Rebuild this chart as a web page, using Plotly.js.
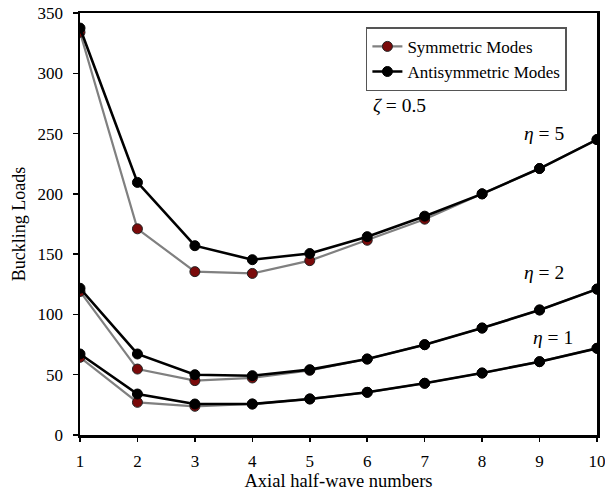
<!DOCTYPE html>
<html>
<head>
<meta charset="utf-8">
<script src="https://cdn.plot.ly/plotly-3.0.1.min.js"></script>
<style>html,body{margin:0;padding:0;background:#fff;}#chart{width:605px;height:492px;}</style>
</head>
<body>
<div id="chart"></div>
<script>
const halfWaves = [1, 2, 3, 4, 5, 6, 7, 8, 9, 10];

const symEta5  = [334, 171, 135.5, 134, 144.6, 161.5, 179, 200, 221, 245];
const antiEta5 = [337.5, 209.5, 157, 145.4, 150.5, 164.5, 181.5, 200, 221, 245];
const symEta2  = [119, 54.7, 45.1, 47.3, 53.6, 63, 74.9, 88.7, 103.7, 121];
const antiEta2 = [121.7, 67.2, 50, 49.2, 54.2, 63, 74.9, 88.7, 103.7, 121];
const symEta1  = [64.4, 27.1, 23.8, 25.7, 29.9, 35.4, 42.9, 51.4, 60.8, 71.9];
const antiEta1 = [67.2, 34, 25.7, 25.7, 29.9, 35.4, 42.9, 51.4, 60.8, 71.9];

const symName = 'Symmetric Modes';
const antiName = 'Antisymmetric Modes';

const symStyle = {
  line: {color: '#808080', width: 2.2},
  marker: {color: '#7a0a0a', size: 10, line: {color: '#222', width: 1}}
};
const antiStyle = {
  line: {color: '#000000', width: 2.6},
  marker: {color: '#000000', size: 10, line: {color: '#000', width: 1}}
};

function tr(y, name, style, show) {
  return Object.assign({
    x: halfWaves, y: y, name: name, mode: 'lines+markers', type: 'scatter',
    showlegend: show, legendgroup: name
  }, JSON.parse(JSON.stringify(style)));
}

const data = [
  tr(symEta5, symName, symStyle, true),
  tr(symEta2, symName, symStyle, false),
  tr(symEta1, symName, symStyle, false),
  tr(antiEta5, antiName, antiStyle, true),
  tr(antiEta2, antiName, antiStyle, false),
  tr(antiEta1, antiName, antiStyle, false)
];

const serif = 'Liberation Serif, Times New Roman, serif';

const layout = {
  width: 605, height: 492,
  margin: {l: 80, r: 8, t: 13, b: 57},
  paper_bgcolor: '#fff', plot_bgcolor: '#fff',
  font: {family: serif, color: '#000', size: 17},
  showlegend: true,
  legend: {
    x: 0.553, y: 0.966, xanchor: 'left', yanchor: 'top',
    bgcolor: '#fff', bordercolor: '#555', borderwidth: 1.5,
    font: {family: serif, size: 17, color: '#000'},
    tracegroupgap: 0
  },
  xaxis: {
    range: [1, 10], tickvals: halfWaves, ticktext: halfWaves.map(String),
    showgrid: false, zeroline: false, showline: true, mirror: true,
    linecolor: '#000', linewidth: 2.5, ticks: 'outside', ticklen: 4, tickwidth: 1.5, tickcolor: '#000',
    ticklabelstandoff: 5, ticklabeloverflow: 'allow',
    tickfont: {family: serif, size: 17},
    title: {text: 'Axial half-wave numbers', font: {family: serif, size: 18.5}, standoff: 2}
  },
  yaxis: {
    range: [0, 350], dtick: 50, tick0: 0,
    showgrid: false, zeroline: false, showline: true, mirror: true,
    linecolor: '#000', linewidth: 2.5, ticks: 'outside', ticklen: 5, tickwidth: 1.5, tickcolor: '#000',
    ticklabelstandoff: 6, ticklabeloverflow: 'allow',
    tickfont: {family: serif, size: 17},
    title: {text: 'Buckling Loads', font: {family: serif, size: 18}, standoff: 8}
  },
  annotations: [
    {x: 6.57, y: 273, xref: 'x', yref: 'y', text: '<i>ζ</i> = 0.5', showarrow: false, font: {family: serif, size: 19.5}},
    {x: 9.08, y: 250, xref: 'x', yref: 'y', text: '<i>η</i> = 5', showarrow: false, font: {family: serif, size: 19.5}},
    {x: 9.08, y: 134.5, xref: 'x', yref: 'y', text: '<i>η</i> = 2', showarrow: false, font: {family: serif, size: 19.5}},
    {x: 9.24, y: 81, xref: 'x', yref: 'y', text: '<i>η</i> = 1', showarrow: false, font: {family: serif, size: 19.5}}
  ]
};

Plotly.newPlot('chart', data, layout, {displayModeBar: false, staticPlot: true});
</script>
</body>
</html>
